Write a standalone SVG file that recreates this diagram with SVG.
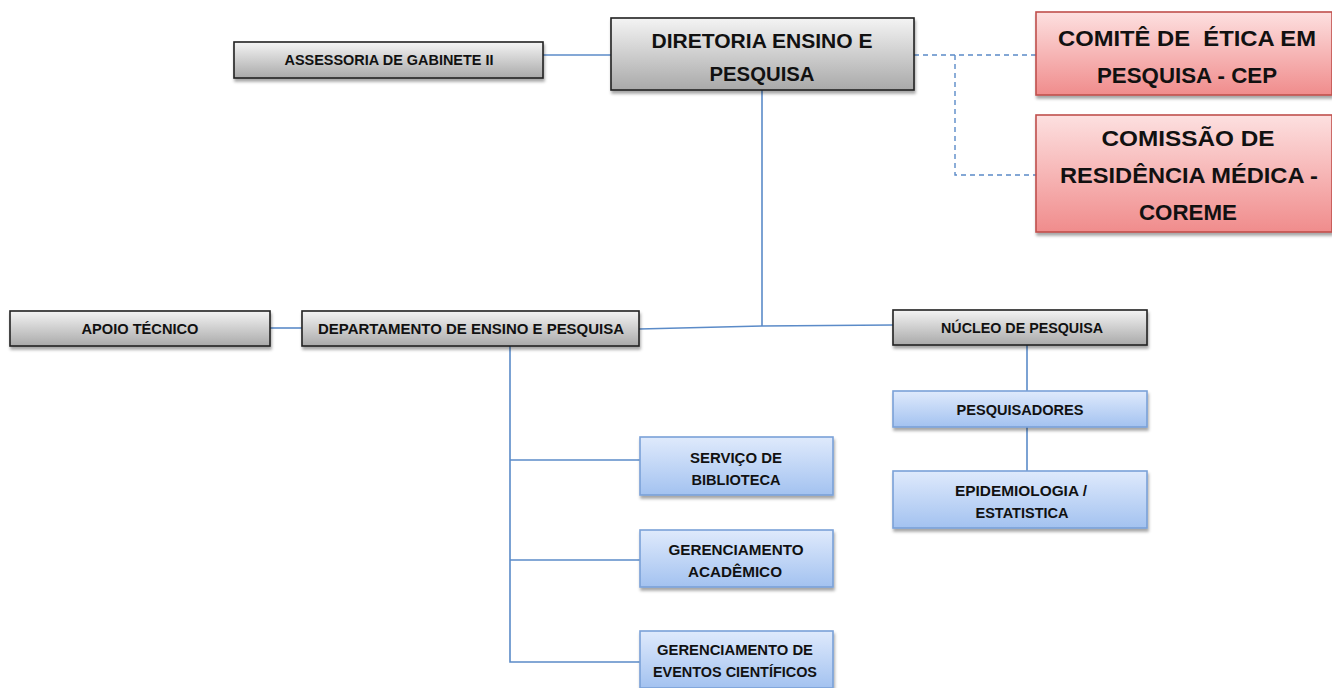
<svg xmlns="http://www.w3.org/2000/svg" width="1332" height="688" viewBox="0 0 1332 688">
<defs>
<linearGradient id="gGray" x1="0" y1="0" x2="0" y2="1"><stop offset="0" stop-color="#f4f4f4"/><stop offset="1" stop-color="#a9a9a9"/></linearGradient>
<linearGradient id="gBlue" x1="0" y1="0" x2="0" y2="1"><stop offset="0" stop-color="#dfeafc"/><stop offset="1" stop-color="#a3c2f0"/></linearGradient>
<linearGradient id="gRed" x1="0" y1="0" x2="0" y2="1"><stop offset="0" stop-color="#fde0e0"/><stop offset="1" stop-color="#f08c8c"/></linearGradient>
<filter id="sh" x="-10%" y="-20%" width="120%" height="150%"><feDropShadow dx="1" dy="3" stdDeviation="1.5" flood-color="#000" flood-opacity="0.35"/></filter>
<style>
.gray{fill:url(#gGray);stroke:#222;stroke-width:1.6;filter:url(#sh)}
.blue{fill:url(#gBlue);stroke:#7aa1d8;stroke-width:1.6;filter:url(#sh)}
.red{fill:url(#gRed);stroke:#c0504d;stroke-width:1.6;filter:url(#sh)}
text{font-family:"Liberation Sans",Arial,sans-serif;font-weight:bold;fill:#111;text-anchor:middle}
.s{font-size:14px}
.b{font-size:21px}
.r{font-size:22px}
.ln{fill:none;stroke:#5b8bc8;stroke-width:1.6}
.dl{fill:none;stroke:#5b8bc8;stroke-width:1.4;stroke-dasharray:5,4}
</style>
</defs>
<rect width="1332" height="688" fill="#fff"/>
<g id="connectors">
<line class="ln" x1="543" y1="55" x2="611" y2="55"/>
<line class="ln" x1="762" y1="90" x2="762" y2="326"/>
<polyline class="ln" points="639,329 762,326 893,325"/>
<line class="ln" x1="270" y1="328" x2="302" y2="328"/>
<line class="ln" x1="1027" y1="345" x2="1027" y2="391"/>
<line class="ln" x1="1027" y1="427" x2="1027" y2="471"/>
<polyline class="ln" points="510,346 510,662 640,662"/>
<line class="ln" x1="510" y1="460" x2="640" y2="460"/>
<line class="ln" x1="510" y1="560" x2="640" y2="560"/>
<line class="dl" x1="914" y1="55" x2="1036" y2="55"/>
<polyline class="dl" points="955,55 955,175 1036,175"/>
</g>
<g id="assessoria"><rect class="gray" x="234" y="42" width="309" height="36"/><text class="s" x="389" y="65" textLength="209" lengthAdjust="spacingAndGlyphs">ASSESSORIA DE GABINETE II</text></g>
<g id="diretoria"><rect class="gray" x="611" y="18" width="303" height="72"/><text class="b" x="762" y="48" textLength="221" lengthAdjust="spacingAndGlyphs">DIRETORIA ENSINO E</text><text class="b" x="762" y="81" textLength="105" lengthAdjust="spacingAndGlyphs">PESQUISA</text></g>
<g id="comite"><rect class="red" x="1036" y="12" width="296" height="83"/><text class="r" x="1187" y="46" textLength="258" lengthAdjust="spacingAndGlyphs" xml:space="preserve">COMITÊ DE  ÉTICA EM</text><text class="r" x="1187" y="83" textLength="180" lengthAdjust="spacingAndGlyphs">PESQUISA - CEP</text></g>
<g id="comissao"><rect class="red" x="1036" y="115" width="296" height="117"/><text class="r" x="1188" y="146" textLength="173" lengthAdjust="spacingAndGlyphs">COMISSÃO DE</text><text class="r" x="1189" y="183" textLength="258" lengthAdjust="spacingAndGlyphs">RESIDÊNCIA MÉDICA -</text><text class="r" x="1188" y="220" textLength="98" lengthAdjust="spacingAndGlyphs">COREME</text></g>
<g id="apoio"><rect class="gray" x="10" y="311" width="260" height="35"/><text class="s" x="140" y="334" textLength="117" lengthAdjust="spacingAndGlyphs">APOIO TÉCNICO</text></g>
<g id="departamento"><rect class="gray" x="302" y="311" width="337" height="35"/><text class="s" x="471" y="334" textLength="306" lengthAdjust="spacingAndGlyphs">DEPARTAMENTO DE ENSINO E PESQUISA</text></g>
<g id="nucleo"><rect class="gray" x="893" y="310" width="254" height="35"/><text class="s" x="1022" y="333" textLength="162" lengthAdjust="spacingAndGlyphs">NÚCLEO DE PESQUISA</text></g>
<g id="pesquisadores"><rect class="blue" x="893" y="391" width="254" height="36"/><text class="s" x="1020" y="415" textLength="127" lengthAdjust="spacingAndGlyphs">PESQUISADORES</text></g>
<g id="epidemiologia"><rect class="blue" x="893" y="471" width="254" height="57"/><text class="s" x="1021" y="496" textLength="132" lengthAdjust="spacingAndGlyphs">EPIDEMIOLOGIA /</text><text class="s" x="1022" y="518" textLength="93" lengthAdjust="spacingAndGlyphs">ESTATISTICA</text></g>
<g id="biblioteca"><rect class="blue" x="640" y="437" width="193" height="58"/><text class="s" x="736" y="463" textLength="92" lengthAdjust="spacingAndGlyphs">SERVIÇO DE</text><text class="s" x="736" y="485" textLength="89" lengthAdjust="spacingAndGlyphs">BIBLIOTECA</text></g>
<g id="academico"><rect class="blue" x="640" y="530" width="193" height="57"/><text class="s" x="736" y="555" textLength="135" lengthAdjust="spacingAndGlyphs">GERENCIAMENTO</text><text class="s" x="735" y="577" textLength="94" lengthAdjust="spacingAndGlyphs">ACADÊMICO</text></g>
<g id="eventos"><rect class="blue" x="640" y="631" width="193" height="57"/><text class="s" x="735" y="655" textLength="156" lengthAdjust="spacingAndGlyphs">GERENCIAMENTO DE</text><text class="s" x="735" y="677" textLength="164" lengthAdjust="spacingAndGlyphs">EVENTOS CIENTÍFICOS</text></g>
</svg>
